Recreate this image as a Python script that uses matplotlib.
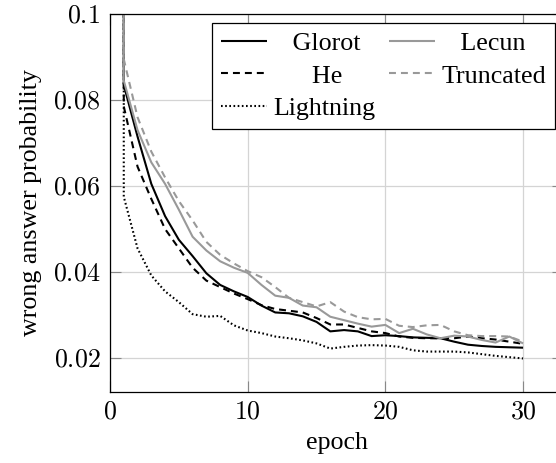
import matplotlib
matplotlib.use("Agg")
import matplotlib.pyplot as plt
from matplotlib.ticker import FuncFormatter
from matplotlib.font_manager import FontProperties

# first entry of each series is the untrained value logged at epoch 1 (off the top of the plot)
epochs = [1] + list(range(1, 31))
glorot = [0.9, 0.0835, 0.0715, 0.0605, 0.0530, 0.0475, 0.0437, 0.0397, 0.0370, 0.0355, 0.0342,
          0.0322, 0.0306, 0.0304, 0.0297, 0.0284, 0.0262, 0.0265, 0.0262, 0.0251, 0.0253,
          0.0251, 0.0248, 0.0247, 0.0246, 0.0238, 0.0231, 0.0228, 0.0226, 0.0225, 0.0224]
he = [0.9, 0.0785, 0.0645, 0.0570, 0.0500, 0.0455, 0.0410, 0.0380, 0.0365, 0.0350, 0.0337,
      0.0323, 0.0314, 0.0310, 0.0306, 0.0293, 0.0278, 0.0278, 0.0270, 0.0262, 0.0258,
      0.0250, 0.0247, 0.0246, 0.0246, 0.0246, 0.0250, 0.0246, 0.0243, 0.0238, 0.0233]
lightning = [0.9, 0.0575, 0.0455, 0.0392, 0.0355, 0.0330, 0.0302, 0.0296, 0.0298, 0.0276, 0.0264,
             0.0258, 0.0250, 0.0246, 0.0241, 0.0234, 0.0222, 0.0226, 0.0229, 0.0230, 0.0229,
             0.0226, 0.0218, 0.0215, 0.0215, 0.0215, 0.0213, 0.0209, 0.0205, 0.0202, 0.0199]
lecun = [0.9, 0.0845, 0.0730, 0.0655, 0.0605, 0.0545, 0.0482, 0.0450, 0.0425, 0.0410, 0.0398,
         0.0370, 0.0345, 0.0340, 0.0322, 0.0318, 0.0296, 0.0288, 0.0280, 0.0273, 0.0277,
         0.0258, 0.0268, 0.0255, 0.0246, 0.0252, 0.0250, 0.0242, 0.0236, 0.0250, 0.0234]
truncated = [0.9, 0.0895, 0.0760, 0.0680, 0.0620, 0.0565, 0.0520, 0.0470, 0.0440, 0.0420, 0.0402,
             0.0388, 0.0365, 0.0340, 0.0330, 0.0320, 0.0330, 0.0308, 0.0295, 0.0290, 0.0291,
             0.0275, 0.0272, 0.0276, 0.0277, 0.0262, 0.0253, 0.0251, 0.0251, 0.0250, 0.0238]

names = ["Glorot", "He", "Lightning", "Lecun", "Truncated"]  # legend column order
series = [glorot, he, lightning, lecun, truncated]
xticks = [0, 10, 20, 30]
yticks = [0.02, 0.04, 0.06, 0.08, 0.1]

BLACK, GRAY = "black", "#999999"
styles = {
    "Glorot": dict(color=BLACK),
    "He": dict(color=BLACK, dashes=(5.0, 3.6)),
    "Lightning": dict(color=BLACK, dashes=(1.2, 1.8)),
    "Lecun": dict(color=GRAY),
    "Truncated": dict(color=GRAY, dashes=(5.0, 3.6)),
}

plt.rcParams.update({
    "font.family": ["Liberation Serif", "DejaVu Serif"],
    "font.size": 18.7,
    "mathtext.fontset": "cm",
    "lines.scale_dashes": False,
})

W, H = 556, 463
fig = plt.figure(figsize=(W / 100, H / 100), dpi=100)
ax = fig.add_axes([110 / W, (H - 392) / H, 453 / W, 378 / H])

for name, ys in zip(names, series):
    ax.plot(epochs, ys, lw=1.5, solid_capstyle="butt", dash_capstyle="butt", label=name,
            **styles[name])

ax.set_xlim(0, 32.9)
ax.set_ylim(0.0121, 0.1)
ax.set_xticks(xticks)
ax.set_yticks(yticks)
fmt = FuncFormatter(lambda v, _: f"${v:g}$")
ax.xaxis.set_major_formatter(fmt)
ax.yaxis.set_major_formatter(fmt)
ax.tick_params(direction="in", length=8, width=0.8, color="#888888", pad=7,
               top=True, right=True)
ax.grid(color="#d4d4d4", lw=0.9)
ax.set_axisbelow(True)
for sp in ax.spines.values():
    sp.set_linewidth(0.9)

ax.set_xlabel("epoch", labelpad=6)
ax.set_ylabel("wrong answer probability", labelpad=8)

# pgfplots centres the legend text in its column: pad with spaces to mimic that
renderer = fig.canvas.get_renderer()
prop = FontProperties(family=plt.rcParams["font.family"], size=plt.rcParams["font.size"])
def width(s):
    return renderer.get_text_width_height_descent(s, prop, ismath=False)[0]
space = width("a a") - width("aa")
cols = [names[:3], names[3:]]
labels = {}
for col in cols:
    wmax = max(width(n) for n in col)
    for n in col:
        k = int(round((wmax - width(n)) / 2 / space))
        labels[n] = " " * k + n + " " * k

handles = {l.get_label(): l for l in ax.get_lines()}
leg = ax.legend([handles[n] for n in names], [labels[n] for n in names], ncol=2,
                loc="upper right", bbox_to_anchor=(555 / W, 1 - 23 / H),
                bbox_transform=fig.transFigure, borderaxespad=0, fancybox=False,
                edgecolor="black", framealpha=1, handlelength=1.75, handletextpad=0.25,
                columnspacing=0.3, labelspacing=0.35, borderpad=0.35)
leg.get_frame().set_linewidth(0.9)

fig.savefig("out.png", dpi=100)
